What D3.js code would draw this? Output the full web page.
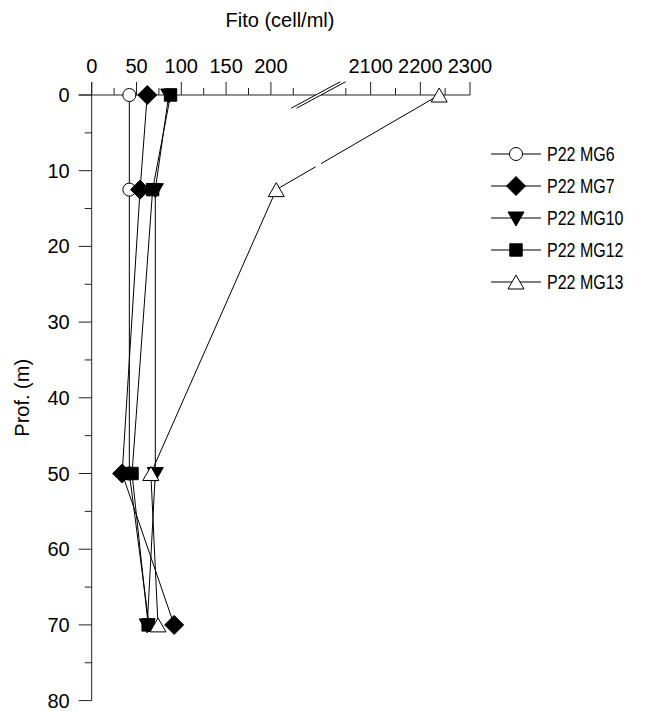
<!DOCTYPE html>
<html>
<head>
<meta charset="utf-8">
<script src="https://cdn.jsdelivr.net/npm/d3@7"></script>
<style>
  html, body { margin: 0; padding: 0; background: #fff; }
  svg text { font-family: "Liberation Sans", Arial, sans-serif; fill: #000; }
</style>
</head>
<body>
<svg id="chart" width="649" height="711"></svg>
<script>
// ---- Data ----
const depths = [0, 12.5, 50, 70];
const seriesNames = ["P22 MG6", "P22 MG7", "P22 MG10", "P22 MG12", "P22 MG13"];
const mg6  = [42, 42, 42, 64];
const mg7  = [62, 54, 34, 92];
const mg10 = [86, 71, 71, 62];
const mg12 = [88, 68, 45, 63];
const mg13 = [2238, 206, 66, 74];
const seriesValues = [mg6, mg7, mg10, mg12, mg13];
const markerTypes = ["circle", "diamond", "triDown", "square", "triUp"];
const markerFills = ["#fff", "#000", "#000", "#000", "#fff"];
const xTicksLeft = [0, 50, 100, 150, 200];
const xMinorLeft = [25, 75, 125, 175, 225];
const xTicksRight = [2100, 2200, 2300];
const xMinorRight = [2050, 2150, 2250];
const yTicks = [0, 10, 20, 30, 40, 50, 60, 70, 80];
const yMinor = [5, 15, 25, 35, 45, 55, 65, 75];
const xTitle = "Fito (cell/ml)";
const yTitle = "Prof. (m)";

// ---- Scales ----
const xLeft = d3.scaleLinear().domain([0, 250]).range([91.7, 315.7]);
const xRight = d3.scaleLinear().domain([2000, 2300]).range([321, 470]);
const xPos = v => v <= 250 ? xLeft(v) : xRight(v);
const y = d3.scaleLinear().domain([0, 80]).range([95, 700.6]);

const svg = d3.select("#chart");
const axisColor = "#222";
const majorLen = 13, minorLen = 7;
const y0 = y(0);
const xAxisStart = xLeft.range()[0] - majorLen;
const yAxisTop = y0 - majorLen;

// ---- X axis (broken) ----
const gx = svg.append("g");
gx.append("line").attr("x1", xAxisStart).attr("x2", xLeft.range()[1])
  .attr("y1", y0).attr("y2", y0).attr("stroke", axisColor);
gx.append("line").attr("x1", xRight.range()[0]).attr("x2", xRight.range()[1])
  .attr("y1", y0).attr("y2", y0).attr("stroke", axisColor);

function xTicks(vals, scale, len, labels) {
  const g = gx.append("g");
  g.selectAll("line").data(vals).join("line")
    .attr("x1", d => scale(d)).attr("x2", d => scale(d))
    .attr("y1", y0).attr("y2", y0 - len).attr("stroke", axisColor);
  if (labels) {
    g.selectAll("text").data(vals).join("text")
      .attr("x", d => scale(d)).attr("y", y0 - 22)
      .attr("text-anchor", "middle").attr("font-size", 20)
      .text(d => d);
  }
}
xTicks(xTicksLeft, xLeft, majorLen, true);
xTicks(xMinorLeft, xLeft, minorLen, false);
xTicks(xTicksRight, xRight, majorLen, true);
xTicks(xMinorRight, xRight, minorLen, false);

// break marks
const breakPts = [xLeft.range()[1], xRight.range()[0]];
gx.selectAll(".brk").data(breakPts).join("line").attr("class", "brk")
  .attr("x1", d => d - 24.5).attr("y1", y0 + 13.2)
  .attr("x2", d => d + 24.5).attr("y2", y0 - 13.2)
  .attr("stroke", "#000").attr("stroke-width", 1);

// ---- Y axis ----
const gy = svg.append("g");
const yAxisX = xLeft(0);
gy.append("line").attr("x1", yAxisX).attr("x2", yAxisX)
  .attr("y1", yAxisTop).attr("y2", y(80)).attr("stroke", axisColor);
gy.selectAll(".maj").data(yTicks).join("line").attr("class", "maj")
  .attr("x1", yAxisX - majorLen).attr("x2", yAxisX)
  .attr("y1", d => y(d)).attr("y2", d => y(d)).attr("stroke", axisColor);
gy.selectAll(".min").data(yMinor).join("line").attr("class", "min")
  .attr("x1", yAxisX - minorLen).attr("x2", yAxisX)
  .attr("y1", d => y(d)).attr("y2", d => y(d)).attr("stroke", axisColor);
gy.selectAll("text").data(yTicks).join("text")
  .attr("x", yAxisX - 22).attr("y", d => y(d)).attr("dy", "0.35em")
  .attr("text-anchor", "end").attr("font-size", 20)
  .text(d => d);

// titles
svg.append("text").attr("x", 280).attr("y", 27)
  .attr("text-anchor", "middle").attr("font-size", 20).text(xTitle);
svg.append("text").attr("transform", `translate(29,${(y(0) + y(80)) / 2}) rotate(-90)`)
  .attr("text-anchor", "middle").attr("font-size", 20).text(yTitle);

// ---- Markers ----
function markerPath(type) {
  switch (type) {
    case "circle": return null;
    case "diamond": return "M0,-9.5L9.5,0L0,9.5L-9.5,0Z";
    case "triDown": return "M-8,-6L8,-6L0,8Z";
    case "triUp": return "M0,-7L8,7L-8,7Z";
    case "square": return "M-6.2,-6.2L6.2,-6.2L6.2,6.2L-6.2,6.2Z";
  }
}
function drawMarker(g, type, fill, cx, cy) {
  if (type === "circle") {
    g.append("circle").attr("cx", cx).attr("cy", cy).attr("r", 6.5)
      .attr("fill", fill).attr("stroke", "#000").attr("stroke-width", 1);
  } else {
    g.append("path").attr("d", markerPath(type))
      .attr("transform", `translate(${cx},${cy})`)
      .attr("fill", fill).attr("stroke", "#000").attr("stroke-width", 1)
      .attr("stroke-linejoin", "miter");
  }
}

// ---- Series lines ----
const gLines = svg.append("g");
seriesValues.forEach((vals, si) => {
  const pts = vals.map((v, i) => [xPos(v), y(depths[i]), v]);
  for (let i = 0; i < pts.length - 1; i++) {
    const a = pts[i], b = pts[i + 1];
    const aRight = a[2] > 250, bRight = b[2] > 250;
    if (aRight !== bRight) {
      const lx = xLeft.range()[1], rx = xRight.range()[0];
      const interp = xv => a[1] + (xv - a[0]) / (b[0] - a[0]) * (b[1] - a[1]);
      const pL = [lx, interp(lx)], pR = [rx, interp(rx)];
      const left = aRight ? b : a, right = aRight ? a : b;
      gLines.append("line").attr("x1", left[0]).attr("y1", left[1])
        .attr("x2", pL[0]).attr("y2", pL[1]).attr("stroke", "#000");
      gLines.append("line").attr("x1", pR[0]).attr("y1", pR[1])
        .attr("x2", right[0]).attr("y2", right[1]).attr("stroke", "#000");
    } else {
      gLines.append("line").attr("x1", a[0]).attr("y1", a[1])
        .attr("x2", b[0]).attr("y2", b[1]).attr("stroke", "#000");
    }
  }
});
const gMarks = svg.append("g");
seriesValues.forEach((vals, si) => {
  const g = gMarks.append("g");
  vals.forEach((v, i) => drawMarker(g, markerTypes[si], markerFills[si], xPos(v), y(depths[i])));
});

// ---- Legend ----
const legX = 491, legY = 154, legStep = 32;
const gLeg = svg.append("g");
seriesNames.forEach((name, i) => {
  const ly = legY + i * legStep;
  gLeg.append("line").attr("x1", legX).attr("x2", legX + 50)
    .attr("y1", ly).attr("y2", ly).attr("stroke", "#000");
  drawMarker(gLeg, markerTypes[i], markerFills[i], legX + 25, ly);
  gLeg.append("text")
    .attr("transform", `translate(${legX + 56},${ly}) scale(0.8,1)`)
    .attr("dy", "0.35em").attr("font-size", 20).text(name);
});
</script>
</body>
</html>
